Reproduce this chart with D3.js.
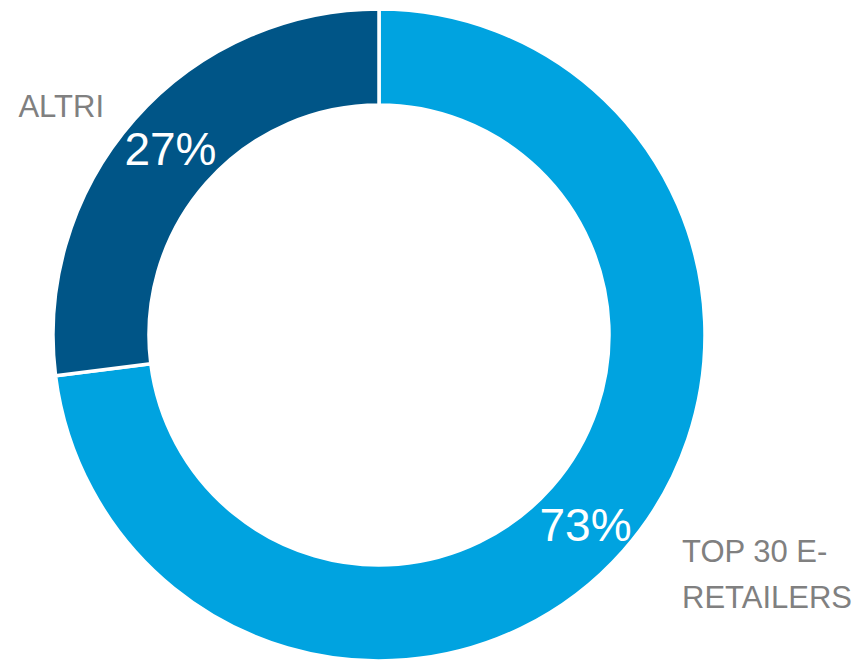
<!DOCTYPE html>
<html>
<head>
<meta charset="utf-8">
<script src="https://cdn.jsdelivr.net/npm/d3@7"></script>
<style>
  html, body { margin: 0; padding: 0; background: #fff; }
  svg { display: block; }
  text { font-family: "Liberation Sans", Arial, sans-serif; }
</style>
</head>
<body>
<div id="chart"></div>
<script>
const categories = ["TOP 30 E-RETAILERS", "ALTRI"];
const shares = [73, 27];
const labelLines = [["TOP 30 E-", "RETAILERS"], ["ALTRI"]];

const width = 861;
const height = 661;
const cx = 379;
const cy = 335;
const outerR = 326;
const innerR = 230;

const colors = d3.scaleOrdinal().domain(categories).range(["#00a3e0", "#005587"]);

const data = categories.map((c, i) => ({ name: c, value: shares[i], lines: labelLines[i] }));

const svg = d3.select("#chart")
  .append("svg")
  .attr("width", width)
  .attr("height", height);

const g = svg.append("g").attr("transform", `translate(${cx},${cy})`);

const pie = d3.pie().sort(null).value(d => d.value);
const arc = d3.arc().innerRadius(innerR).outerRadius(outerR);
const arcs = pie(data);

g.selectAll("path.slice")
  .data(arcs)
  .join("path")
  .attr("class", "slice")
  .attr("d", arc)
  .attr("fill", d => colors(d.data.name))
  .attr("stroke", "#fff")
  .attr("stroke-width", 3.5);

// percentage labels at the centroid of each slice
g.selectAll("text.pct")
  .data(arcs)
  .join("text")
  .attr("class", "pct")
  .attr("x", d => arc.centroid(d)[0] + (d.index === 0 ? -2 : 0))
  .attr("y", d => arc.centroid(d)[1] + (d.index === 0 ? 6 : -2))
  .attr("text-anchor", "middle")
  .attr("dominant-baseline", "central")
  .attr("fill", "#fff")
  .style("font-size", "46px")
  .text(d => d.data.value + "%");

// category labels outside the ring
const outerLabelPos = [
  { x: 682, y: 562, anchor: "start" },
  { x: 104, y: 117, anchor: "end" }
];

svg.selectAll("text.cat")
  .data(arcs)
  .join("text")
  .attr("class", "cat")
  .attr("x", d => outerLabelPos[d.index].x)
  .attr("y", d => outerLabelPos[d.index].y)
  .attr("text-anchor", d => outerLabelPos[d.index].anchor)
  .attr("fill", "#808080")
  .style("font-size", "31px")
  .each(function (d) {
    const t = d3.select(this);
    d.data.lines.forEach((line, i) => {
      t.append("tspan")
        .attr("x", outerLabelPos[d.index].x)
        .attr("dy", i === 0 ? 0 : 46)
        .text(line);
    });
  });
</script>
</body>
</html>
